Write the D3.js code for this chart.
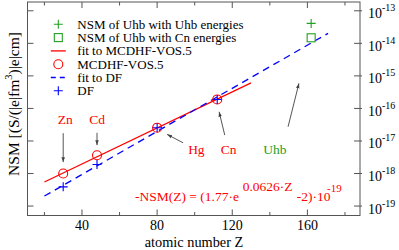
<!DOCTYPE html>
<html><head><meta charset="utf-8">
<script src="https://cdn.jsdelivr.net/npm/d3@7"></script>
<style>body{margin:0;background:#fff}svg{display:block}</style>
</head><body><div id="c"></div>
<script>
// ---- data ----
const elements = ["Zn", "Cd", "Hg", "Cn"];
const atomicZ = [30, 48, 80, 112];
const nsmMCDHF = [1.0e-18, 3.65e-18, 2.56e-17, 1.89e-16];
const nsmDF = [3.9e-19, 1.9e-18, 2.56e-17, 1.89e-16];
const uhbZ = [162];
const uhbWithUhbEnergies = [4.1e-14];
const uhbWithCnEnergies = [1.48e-14];
const fitMCDHF_Z = [20, 130];
const fitMCDHF_V = [5.5e-19, 6.06e-16];
const fitDF_Z = [20, 171];
const fitDF_V = [2.03e-19, 2.03e-14];
const xTicks = [20, 40, 60, 80, 100, 120, 140, 160, 180];
const xTickLabels = [40, 80, 120, 160];
const yTickExps = [-19, -18, -17, -16, -15, -14, -13];
const legendLabels = ["NSM of Uhb with Uhb energies", "NSM of Uhb with Cn energies", "fit to MCDHF-VOS.5", "MCDHF-VOS.5", "fit to DF", "DF"];

const W = 399, H = 250;
const L = 27.5, R = 360, T = 2, B = 215.5;
const RED = "#ff0000", BLUE = "#0000ff", GREEN = "#22a022", AX = "#555";
const FONT = "'Liberation Serif', 'DejaVu Serif', 'Times New Roman', serif";

const x = d3.scaleLinear().domain([11, 188]).range([L, R]);
const y = d3.scaleLog().domain([Math.pow(10, -19.29), Math.pow(10, -12.73)]).range([B, T]);

const svg = d3.select("#c").append("svg").attr("width", W).attr("height", H)
  .attr("font-family", FONT).style("font-family", FONT);
const defs = svg.append("defs");
defs.append("marker").attr("id", "ah").attr("viewBox", "0 0 10 10").attr("refX", 10).attr("refY", 5)
  .attr("markerWidth", 5).attr("markerHeight", 5).attr("orient", "auto-start-reverse")
  .append("path").attr("d", "M0,1.5L10,5L0,8.5z").attr("fill", "#444");

// frame
svg.append("rect").attr("x", L).attr("y", T).attr("width", R - L).attr("height", B - T)
  .attr("fill", "none").attr("stroke", AX).attr("stroke-width", 1);

// x ticks (bottom and top, inward)
xTicks.forEach(t => {
  const major = xTickLabels.includes(t);
  const len = major ? 6 : 3.5;
  const xx = x(t);
  svg.append("line").attr("x1", xx).attr("x2", xx).attr("y1", B).attr("y2", B - len).attr("stroke", AX);
  svg.append("line").attr("x1", xx).attr("x2", xx).attr("y1", T).attr("y2", T + len).attr("stroke", AX);
});
xTickLabels.forEach(t => {
  svg.append("text").attr("x", x(t)).attr("y", 230).attr("text-anchor", "middle")
    .attr("font-size", 14).text(t);
});
svg.append("text").attr("x", 194).attr("y", 246.5).attr("text-anchor", "middle")
  .attr("font-size", 14.3).text("atomic number Z");

// y ticks (left and right)
yTickExps.forEach(e => {
  const yy = y(Math.pow(10, e));
  svg.append("line").attr("x1", L).attr("x2", L + 6).attr("y1", yy).attr("y2", yy).attr("stroke", AX);
  svg.append("line").attr("x1", R - 6).attr("x2", R + 2).attr("y1", yy).attr("y2", yy).attr("stroke", AX);
  const t = svg.append("text").attr("x", 368).attr("y", yy + 7.5).attr("font-size", 14);
  t.append("tspan").text("10");
  t.append("tspan").attr("dy", -7).attr("font-size", 10).text(e);
});

// y label
const yl = svg.append("text").attr("transform", "translate(18.5,104) rotate(-90)")
  .attr("text-anchor", "middle").attr("font-size", 15.5);
yl.append("tspan").text("NSM [(S/(|e|fm");
yl.append("tspan").attr("dy", -6.5).attr("font-size", 10.5).text("3");
yl.append("tspan").attr("dy", 6.5).text(")|e|cm]");

// fit lines
const line = d3.line().x(d => x(d[0])).y(d => y(d[1]));
svg.append("path").attr("d", line(d3.zip(fitMCDHF_Z, fitMCDHF_V))).attr("fill", "none")
  .attr("stroke", RED).attr("stroke-width", 1.3);
svg.append("path").attr("d", line(d3.zip(fitDF_Z, fitDF_V))).attr("fill", "none")
  .attr("stroke", BLUE).attr("stroke-width", 1.3).attr("stroke-dasharray", "7,5");

function plus(g, cx, cy, s, col) {
  g.append("path").attr("d", `M${cx - s},${cy}H${cx + s}M${cx},${cy - s}V${cy + s}`)
    .attr("stroke", col).attr("stroke-width", 1.1).attr("fill", "none");
}
// MCDHF circles
atomicZ.forEach((z, i) => {
  svg.append("circle").attr("cx", x(z)).attr("cy", y(nsmMCDHF[i])).attr("r", 4.5)
    .attr("fill", "none").attr("stroke", RED).attr("stroke-width", 1.1);
});
// DF plus
atomicZ.forEach((z, i) => plus(svg, x(z), y(nsmDF[i]), 4.5, BLUE));
// Uhb
uhbZ.forEach((z, i) => {
  plus(svg, x(z), y(uhbWithUhbEnergies[i]), 4.5, GREEN);
  svg.append("rect").attr("x", x(z) - 4).attr("y", y(uhbWithCnEnergies[i]) - 4).attr("width", 8).attr("height", 8)
    .attr("fill", "none").attr("stroke", GREEN).attr("stroke-width", 1.1);
});

// annotations
const annLabels = ["Zn", "Cd", "Hg", "Cn", "Uhb"];
const annColors = [RED, RED, RED, RED, GREEN];
const annLabelZ = [31.1, 48.1, 100.9, 118.1, 142.7];
const annLabelLog = [-16.48, -16.48, -17.40, -17.40, -17.40];
const arrowFrom = [[30, -16.76], [48, -16.75], [93.8, -17.055], [116.0, -16.819], [149.7, -16.564]];
const arrowTo = [[30, -17.65], [48, -17.13], [85.3, -16.797], [113.0, -16.103], [155.5, -15.230]];
annLabels.forEach((lab, i) => {
  svg.append("text").attr("x", x(annLabelZ[i])).attr("y", y(Math.pow(10, annLabelLog[i])))
    .attr("text-anchor", "middle").attr("font-size", 13.5).attr("fill", annColors[i]).text(lab);
  svg.append("line").attr("x1", x(arrowFrom[i][0])).attr("y1", y(Math.pow(10, arrowFrom[i][1])))
    .attr("x2", x(arrowTo[i][0])).attr("y2", y(Math.pow(10, arrowTo[i][1])))
    .attr("stroke", "#555").attr("stroke-width", 1).attr("marker-end", "url(#ah)");
});

// formula
const fg = svg.append("g").attr("fill", RED).attr("font-size", 13.5);
fg.append("text").attr("x", 135).attr("y", 201).text("-NSM(Z) = (1.77\u00b7e");
fg.append("text").attr("x", 242.7).attr("y", 190.5).text("0.0626\u00b7Z");
fg.append("text").attr("x", 296.7).attr("y", 201).text("-2)\u00b710");
fg.append("text").attr("x", 327).attr("y", 192).attr("font-size", 11).text("-19");

// legend
const lx = 58.3, ly0 = 24.3, ldy = 13.3;
legendLabels.forEach((lab, i) => {
  const cy = ly0 + i * ldy;
  svg.append("text").attr("x", 77.3).attr("y", cy + 4.5).attr("font-size", 13).attr("fill", "#000").text(lab);
  if (i === 0) plus(svg, lx, cy, 4.5, GREEN);
  if (i === 1) svg.append("rect").attr("x", lx - 4).attr("y", cy - 4).attr("width", 8).attr("height", 8)
    .attr("fill", "none").attr("stroke", GREEN).attr("stroke-width", 1.1);
  if (i === 2) svg.append("line").attr("x1", lx - 7.5).attr("x2", lx + 7.5).attr("y1", cy).attr("y2", cy).attr("stroke", RED).attr("stroke-width", 1.3);
  if (i === 3) svg.append("circle").attr("cx", lx).attr("cy", cy).attr("r", 4.5).attr("fill", "none").attr("stroke", RED).attr("stroke-width", 1.1);
  if (i === 4) svg.append("line").attr("x1", lx - 7.5).attr("x2", lx + 7.5).attr("y1", cy).attr("y2", cy).attr("stroke", BLUE).attr("stroke-width", 1.3).attr("stroke-dasharray", "5,4");
  if (i === 5) plus(svg, lx, cy, 4.5, BLUE);
});
</script></body></html>
